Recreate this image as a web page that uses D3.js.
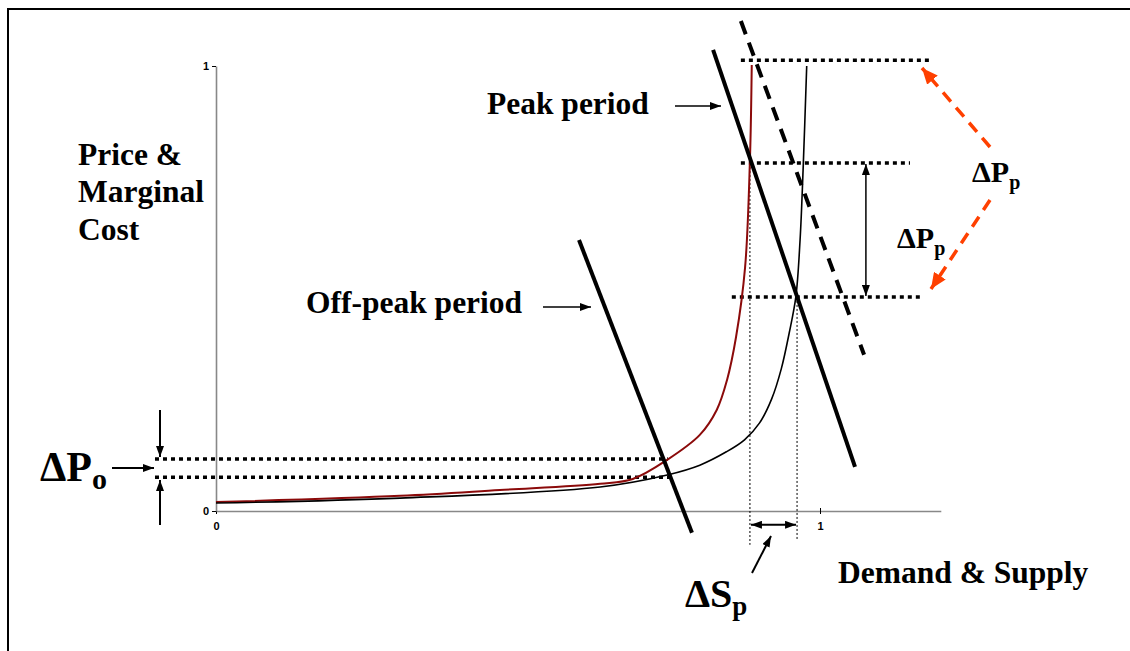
<!DOCTYPE html>
<html><head><meta charset="utf-8">
<script src="https://cdn.jsdelivr.net/npm/d3@7"></script>
<style>
body{margin:0;background:#fff;}
svg{display:block;}
.lbl{font-family:"Liberation Serif","Times New Roman",serif;font-weight:bold;fill:#000;}
</style></head>
<body><svg id="c" width="1130" height="651"></svg>
<script>
// ---- data (in axis units: quantity 0..1.2, price 0..1) ----
const xTicks = [0, 1];
const yTicks = [0, 1];
// supply (marginal cost) curve, peak capacity lower (dark red)
const supplyRedX = [0, 0.305, 0.470, 0.636, 0.690, 0.747, 0.801, 0.829, 0.846, 0.861, 0.876, 0.884, 0.887];
const supplyRedY = [0.020, 0.034, 0.047, 0.061, 0.072, 0.115, 0.171, 0.227, 0.294, 0.391, 0.548, 0.789, 1.002];
// supply curve with added capacity (black)
const supplyBlackX = [0, 0.305, 0.636, 0.747, 0.801, 0.845, 0.875, 0.900, 0.920, 0.936, 0.949, 0.960, 0.967, 0.972, 0.978];
const supplyBlackY = [0.018, 0.029, 0.054, 0.081, 0.103, 0.133, 0.160, 0.198, 0.252, 0.320, 0.400, 0.481, 0.609, 0.766, 1.000];
// demand lines: [x0, y0, x1, y1]
const demandOffPeak = [0.601, 0.609, 0.788, -0.049];
const demandPeak = [0.823, 1.036, 1.058, 0.099];
const demandPeakShift = [0.869, 1.101, 1.073, 0.351];
// price levels (dotted guides): [y, x0, x1]
const levelTop = [1.013, 0.869, 1.182];
const levelMid = [0.782, 0.869, 1.149];
const levelLow = [0.481, 0.854, 1.166];
const levelOffHi = [0.117, -0.101, 0.748];
const levelOffLo = [0.076, -0.101, 0.755];
// quantity guides: [x, y0, y1]
const qRed = [0.884, 0.782, -0.076];
const qBlack = [0.962, 0.481, -0.065];

const svg = d3.select("#c");
const x = d3.scaleLinear().domain([0, 1.2]).range([216, 940.8]);
const y = d3.scaleLinear().domain([0, 1]).range([511, 66]);

// markers
const defs = svg.append("defs");
function marker(id, color, w, h) {
  defs.append("marker").attr("id", id).attr("viewBox", `0 0 ${w} ${h}`)
    .attr("refX", w).attr("refY", h / 2).attr("markerWidth", w).attr("markerHeight", h)
    .attr("markerUnits", "userSpaceOnUse").attr("orient", "auto-start-reverse")
    .append("path").attr("d", `M0,0L${w},${h/2}L0,${h}Z`).attr("fill", color);
}
marker("ab", "#000", 11, 8);
marker("ar", "#ff4000", 16, 14);

// frame
svg.append("path").attr("d", "M8,651V9H1130").attr("fill", "none").attr("stroke", "#000").attr("stroke-width", 2);

// axes
const gx = svg.append("g").attr("transform", `translate(0,${y(0)})`)
  .call(d3.axisBottom(x).tickValues(xTicks).tickSize(3).tickSizeOuter(0).tickFormat(d3.format("d")));
const gy = svg.append("g").attr("transform", `translate(${x(0)},0)`)
  .call(d3.axisLeft(y).tickValues(yTicks).tickSize(4).tickSizeOuter(0).tickFormat(d3.format("d")));
[gx, gy].forEach(g => {
  g.attr("font-family", "'Liberation Sans', Arial, sans-serif").attr("font-size", 11).attr("font-weight", "bold");
  g.select(".domain").attr("stroke", "#888").attr("stroke-width", 1.6);
  g.selectAll(".tick line").attr("stroke", "#000").attr("stroke-width", 1);
});
gx.selectAll(".tick line").attr("y1", -3);
gx.selectAll(".tick text").attr("dy", "1.2em");
gy.selectAll(".tick text").attr("x", -7);

// dotted guides
const dots = svg.append("g").attr("stroke", "#000").attr("fill", "none");
[levelTop, levelMid, levelLow, levelOffHi, levelOffLo].forEach(l => {
  dots.append("line").attr("x1", x(l[1])).attr("x2", x(l[2])).attr("y1", y(l[0])).attr("y2", y(l[0]))
    .attr("stroke-width", 3.5).attr("stroke-dasharray", "4,4");
});
[qRed, qBlack].forEach(q => {
  dots.append("line").attr("x1", x(q[0])).attr("x2", x(q[0])).attr("y1", y(q[1])).attr("y2", y(q[2]))
    .attr("stroke-width", 1).attr("stroke-dasharray", "2,2");
});

// supply curves
const line = d3.line().x(d => x(d[0])).y(d => y(d[1])).curve(d3.curveCatmullRom.alpha(0.5));
svg.append("path").datum(d3.zip(supplyRedX, supplyRedY)).attr("d", line)
  .attr("fill", "none").attr("stroke", "#8b0a0a").attr("stroke-width", 2);
svg.append("path").datum(d3.zip(supplyBlackX, supplyBlackY)).attr("d", line)
  .attr("fill", "none").attr("stroke", "#000").attr("stroke-width", 1.6);

// demand lines
function dline(d, dash) {
  const l = svg.append("line").attr("x1", x(d[0])).attr("y1", y(d[1])).attr("x2", x(d[2])).attr("y2", y(d[3]))
    .attr("stroke", "#000").attr("stroke-width", 4);
  if (dash) l.attr("stroke-dasharray", dash);
}
dline(demandOffPeak);
dline(demandPeak);
dline(demandPeakShift, "14,9");

// arrows
function arrow(x1, y1, x2, y2, opts = {}) {
  const l = svg.append("line").attr("x1", x1).attr("y1", y1).attr("x2", x2).attr("y2", y2)
    .attr("stroke", opts.color || "#000").attr("stroke-width", opts.w || 1.5)
    .attr("marker-end", `url(#${opts.m || "ab"})`);
  if (opts.both) l.attr("marker-start", `url(#${opts.m || "ab"})`);
  if (opts.dash) l.attr("stroke-dasharray", opts.dash);
}
arrow(x(1.076), y(levelMid[0]) + 1, x(1.076), y(levelLow[0]) - 1, {both: true, w: 1.5});
arrow(x(qRed[0]) + 1, y(-0.031), x(qBlack[0]) - 1, y(-0.031), {both: true, w: 2});

// pointer arrows
arrow(675, 106, 721, 106);
arrow(543, 307, 591, 307);
arrow(112, 468, 154, 468, {w: 2});
arrow(160, 410, 160, 457, {w: 2});
arrow(160, 525, 160, 480, {w: 2});
arrow(752, 573, 771, 536, {w: 2});
arrow(990, 147, 922, 68, {color: "#ff4000", w: 3.5, m: "ar", dash: "12,8"});
arrow(990, 200, 931, 289, {color: "#ff4000", w: 3.5, m: "ar", dash: "12,8"});

// labels
function txt(xp, yp, s, size, color) {
  return svg.append("text").attr("class", "lbl").attr("x", xp).attr("y", yp)
    .attr("font-size", size).attr("fill", color || "#000").text(s);
}
txt(78, 165, "Price &", 31.5);
txt(78, 202, "Marginal", 31.5);
txt(78, 240, "Cost", 31.5);
txt(487, 114, "Peak period", 31.5);
txt(306, 313, "Off-peak period", 31.5);
txt(838, 583, "Demand & Supply", 31.5);

function delta(xp, yp, main, sub, size, subSize, dy, color) {
  const t = svg.append("text").attr("class", "lbl").attr("x", xp).attr("y", yp)
    .attr("font-size", size).attr("fill", color || "#000");
  t.append("tspan").text(main);
  t.append("tspan").attr("font-size", subSize).attr("dy", dy).text(sub);
}
delta(40, 481, "ΔP", "o", 42, 30, 8);
delta(685, 607, "ΔS", "p", 40, 27, 8);
delta(897, 248, "ΔP", "p", 30, 20, 7);
delta(972, 182, "ΔP", "p", 30, 20, 7, "#ff4000");
</script></body></html>
